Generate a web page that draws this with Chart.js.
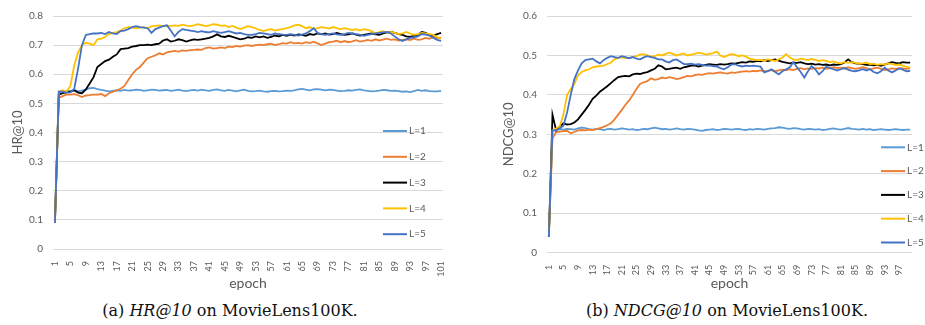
<!DOCTYPE html>
<html>
<head>
<meta charset="utf-8">
<script src="https://cdn.jsdelivr.net/npm/chart.js@4.4.1/dist/chart.umd.min.js"></script>
<style>
	body { margin: 0; width: 925px; height: 325px; overflow: hidden; background: #fff; position: relative; }
	.box { position: absolute; top: 0; }
	.caption { position: absolute; top: 300px; height: 22px; line-height: 22px; text-align: center;
		font-family: "DejaVu Serif", serif; font-size: 16px; color: #111; white-space: nowrap; }
</style>
</head>
<body>
<div class="box" style="left:0"><canvas id="hrChart" width="460" height="292"></canvas></div>
<div class="box" style="left:465px"><canvas id="ndcgChart" width="460" height="292"></canvas></div>
<div class="caption" style="left:0; width:460px">(a) <i>HR@10</i> on MovieLens100K.</div>
<div class="caption" style="left:465px; width:524px">(b) <i>NDCG@10</i> on MovieLens100K.</div>

<script>
// ===== 데이터 =====
const seriesNames = ['L=1', 'L=2', 'L=3', 'L=4', 'L=5'];
const seriesColors = ['#5B9BD5', '#ED7D31', '#000000', '#FFC000', '#4472C4'];

// epoch (x축 카테고리)
const epochsHR = [1,2,3,4,5,6,7,8,9,10,11,12,13,14,15,16,17,18,19,20,21,22,23,24,25,26,27,28,29,30,
	31,32,33,34,35,36,37,38,39,40,41,42,43,44,45,46,47,48,49,50,51,52,53,54,55,56,57,58,59,60,
	61,62,63,64,65,66,67,68,69,70,71,72,73,74,75,76,77,78,79,80,81,82,83,84,85,86,87,88,89,90,
	91,92,93,94,95,96,97,98,99,100,101];
const epochsNDCG = [1,2,3,4,5,6,7,8,9,10,11,12,13,14,15,16,17,18,19,20,21,22,23,24,25,26,27,28,29,30,
	31,32,33,34,35,36,37,38,39,40,41,42,43,44,45,46,47,48,49,50,51,52,53,54,55,56,57,58,59,60,
	61,62,63,64,65,66,67,68,69,70,71,72,73,74,75,76,77,78,79,80,81,82,83,84,85,86,87,88,89,90,
	91,92,93,94,95,96,97,98,99,100];

// y축 눈금
const hrTicks = [0, 0.1, 0.2, 0.3, 0.4, 0.5, 0.6, 0.7, 0.8];
const ndcgTicks = [0, 0.1, 0.2, 0.3, 0.4, 0.5, 0.6];

// HR@10
const hrL1 = [0.09,0.54,0.542,0.541,0.543,0.545,0.542,0.544,0.547,0.552,0.553,0.549,0.546,0.544,0.541,0.543,0.545,0.543,0.546,0.544,
	0.545,0.547,0.546,0.543,0.545,0.547,0.546,0.544,0.545,0.546,0.543,0.545,0.547,0.544,0.542,0.545,0.546,0.544,0.547,0.545,
	0.543,0.546,0.548,0.545,0.543,0.546,0.544,0.541,0.545,0.547,0.543,0.541,0.542,0.544,0.541,0.54,0.542,0.543,0.541,0.542,
	0.544,0.543,0.545,0.548,0.55,0.547,0.545,0.548,0.549,0.547,0.545,0.547,0.546,0.544,0.542,0.543,0.545,0.544,0.546,0.548,
	0.545,0.543,0.541,0.542,0.544,0.546,0.545,0.543,0.544,0.542,0.54,0.541,0.539,0.542,0.546,0.543,0.545,0.542,0.541,0.541,0.543];
const hrL2 = [0.09,0.52,0.525,0.53,0.53,0.532,0.528,0.522,0.527,0.528,0.53,0.53,0.532,0.525,0.535,0.54,0.545,0.55,0.56,0.58,
	0.6,0.615,0.625,0.64,0.655,0.66,0.665,0.672,0.668,0.675,0.678,0.68,0.678,0.682,0.68,0.683,0.684,0.685,0.684,0.69,
	0.692,0.688,0.69,0.692,0.69,0.695,0.693,0.697,0.695,0.698,0.7,0.697,0.7,0.702,0.7,0.703,0.705,0.7,0.703,0.707,
	0.705,0.71,0.706,0.708,0.705,0.71,0.707,0.712,0.706,0.7,0.705,0.71,0.712,0.715,0.71,0.714,0.71,0.713,0.717,0.712,
	0.715,0.718,0.715,0.72,0.716,0.719,0.722,0.718,0.72,0.716,0.718,0.72,0.717,0.722,0.718,0.72,0.725,0.722,0.728,0.724,0.726];
const hrL3 = [0.09,0.53,0.535,0.538,0.54,0.545,0.537,0.535,0.548,0.568,0.59,0.625,0.635,0.645,0.65,0.66,0.668,0.686,0.688,0.69,
	0.695,0.697,0.7,0.7,0.702,0.7,0.703,0.705,0.716,0.72,0.712,0.715,0.72,0.717,0.712,0.716,0.72,0.718,0.72,0.722,
	0.725,0.73,0.737,0.73,0.728,0.732,0.728,0.724,0.72,0.722,0.727,0.725,0.73,0.727,0.73,0.725,0.728,0.733,0.73,0.735,
	0.732,0.736,0.733,0.737,0.735,0.732,0.738,0.735,0.74,0.737,0.74,0.736,0.738,0.742,0.738,0.735,0.737,0.74,0.736,0.733,
	0.735,0.738,0.74,0.737,0.735,0.74,0.743,0.745,0.742,0.738,0.735,0.73,0.728,0.732,0.736,0.745,0.742,0.735,0.733,0.738,0.742];
const hrL4 = [0.09,0.54,0.545,0.54,0.56,0.63,0.675,0.7,0.708,0.705,0.7,0.72,0.722,0.728,0.738,0.742,0.745,0.75,0.758,0.762,
	0.76,0.758,0.76,0.762,0.758,0.764,0.766,0.768,0.765,0.767,0.765,0.768,0.766,0.77,0.767,0.765,0.768,0.772,0.769,0.765,
	0.768,0.772,0.77,0.766,0.768,0.762,0.766,0.76,0.755,0.76,0.765,0.762,0.758,0.752,0.748,0.752,0.755,0.75,0.753,0.755,
	0.758,0.762,0.768,0.77,0.765,0.758,0.762,0.755,0.758,0.762,0.76,0.757,0.762,0.758,0.755,0.758,0.755,0.752,0.755,0.75,
	0.755,0.752,0.748,0.74,0.745,0.748,0.742,0.745,0.742,0.738,0.74,0.745,0.74,0.735,0.738,0.742,0.74,0.738,0.735,0.728,0.722];
const hrL5 = [0.09,0.54,0.54,0.537,0.538,0.55,0.62,0.7,0.735,0.738,0.74,0.74,0.742,0.738,0.745,0.74,0.738,0.748,0.75,0.755,
	0.762,0.765,0.762,0.76,0.758,0.742,0.755,0.76,0.765,0.768,0.75,0.73,0.745,0.755,0.752,0.75,0.748,0.745,0.748,0.745,
	0.744,0.748,0.745,0.742,0.745,0.748,0.744,0.74,0.742,0.738,0.735,0.735,0.738,0.742,0.74,0.738,0.735,0.74,0.738,0.736,
	0.735,0.738,0.735,0.733,0.736,0.74,0.748,0.758,0.742,0.738,0.735,0.738,0.74,0.737,0.735,0.738,0.742,0.74,0.738,0.735,
	0.732,0.735,0.738,0.74,0.742,0.744,0.745,0.74,0.73,0.72,0.714,0.72,0.725,0.727,0.73,0.738,0.736,0.733,0.725,0.718,0.715];

// NDCG@10
const ndcgL1 = [0.04,0.31,0.312,0.313,0.312,0.314,0.313,0.312,0.315,0.317,0.316,0.313,0.312,0.314,0.313,0.311,0.313,0.314,0.312,0.313,
	0.315,0.314,0.312,0.313,0.311,0.312,0.314,0.313,0.315,0.317,0.315,0.313,0.314,0.312,0.313,0.315,0.313,0.312,0.314,0.313,
	0.312,0.31,0.309,0.311,0.312,0.313,0.311,0.312,0.314,0.313,0.312,0.313,0.314,0.312,0.311,0.313,0.312,0.314,0.313,0.312,
	0.314,0.315,0.316,0.318,0.317,0.315,0.314,0.316,0.315,0.313,0.312,0.314,0.313,0.312,0.313,0.311,0.312,0.314,0.315,0.313,
	0.312,0.314,0.316,0.314,0.313,0.312,0.314,0.312,0.313,0.311,0.312,0.313,0.312,0.311,0.312,0.313,0.312,0.311,0.312,0.312];
const ndcgL2 = [0.04,0.29,0.305,0.307,0.308,0.309,0.303,0.306,0.31,0.311,0.31,0.312,0.311,0.313,0.316,0.319,0.323,0.328,0.338,0.35,
	0.362,0.375,0.386,0.4,0.415,0.428,0.432,0.435,0.442,0.438,0.44,0.444,0.442,0.445,0.443,0.44,0.442,0.445,0.448,0.447,
	0.45,0.452,0.451,0.453,0.455,0.454,0.456,0.457,0.455,0.454,0.457,0.456,0.458,0.459,0.46,0.459,0.461,0.46,0.462,0.46,
	0.461,0.463,0.46,0.462,0.464,0.462,0.465,0.463,0.466,0.468,0.465,0.467,0.466,0.468,0.467,0.469,0.466,0.468,0.47,0.468,
	0.469,0.467,0.47,0.468,0.466,0.468,0.47,0.468,0.465,0.467,0.469,0.466,0.463,0.465,0.467,0.466,0.468,0.467,0.466,0.467];
const ndcgL3 = [0.04,0.35,0.31,0.32,0.328,0.325,0.326,0.33,0.338,0.35,0.362,0.375,0.39,0.398,0.408,0.415,0.422,0.43,0.438,0.445,
	0.447,0.448,0.447,0.452,0.454,0.453,0.456,0.458,0.462,0.466,0.475,0.472,0.465,0.466,0.468,0.469,0.466,0.47,0.472,0.474,
	0.475,0.472,0.474,0.476,0.478,0.477,0.476,0.478,0.477,0.478,0.48,0.479,0.481,0.483,0.482,0.485,0.484,0.486,0.485,0.488,
	0.486,0.488,0.49,0.487,0.484,0.482,0.48,0.482,0.481,0.483,0.48,0.478,0.479,0.477,0.478,0.476,0.477,0.475,0.477,0.476,
	0.478,0.482,0.49,0.483,0.48,0.479,0.478,0.476,0.477,0.475,0.476,0.474,0.477,0.48,0.483,0.481,0.48,0.483,0.482,0.482];
const ndcgL4 = [0.04,0.31,0.315,0.32,0.35,0.4,0.415,0.428,0.45,0.458,0.462,0.465,0.47,0.472,0.473,0.474,0.478,0.482,0.49,0.494,
	0.495,0.493,0.494,0.496,0.498,0.502,0.503,0.5,0.497,0.498,0.502,0.5,0.504,0.507,0.504,0.5,0.503,0.505,0.5,0.502,
	0.504,0.507,0.505,0.502,0.504,0.506,0.51,0.5,0.496,0.5,0.503,0.502,0.498,0.5,0.497,0.492,0.49,0.488,0.489,0.487,
	0.49,0.488,0.486,0.49,0.495,0.503,0.495,0.49,0.488,0.492,0.49,0.488,0.491,0.489,0.486,0.488,0.486,0.483,0.485,0.482,
	0.48,0.483,0.481,0.483,0.481,0.479,0.48,0.482,0.478,0.479,0.476,0.478,0.477,0.48,0.478,0.476,0.477,0.474,0.471,0.469];
const ndcgL5 = [0.04,0.31,0.31,0.315,0.322,0.355,0.4,0.44,0.462,0.48,0.488,0.49,0.492,0.485,0.48,0.488,0.494,0.498,0.496,0.494,
	0.498,0.496,0.493,0.496,0.492,0.49,0.495,0.498,0.496,0.494,0.49,0.49,0.485,0.482,0.488,0.49,0.484,0.478,0.478,0.479,
	0.477,0.478,0.476,0.474,0.475,0.473,0.472,0.468,0.465,0.47,0.477,0.478,0.474,0.472,0.474,0.473,0.474,0.473,0.472,0.457,
	0.46,0.465,0.458,0.452,0.46,0.465,0.47,0.483,0.47,0.458,0.444,0.46,0.473,0.465,0.452,0.46,0.472,0.468,0.465,0.462,
	0.465,0.468,0.464,0.461,0.46,0.462,0.465,0.462,0.465,0.458,0.455,0.46,0.469,0.462,0.457,0.462,0.467,0.464,0.46,0.461];

// ===== 공통 스타일 =====
const TEXT_COLOR = '#595959';
const GRID_COLOR = '#D9D9D9';
Chart.defaults.font.family = 'Lato, "Liberation Sans", sans-serif';
Chart.defaults.color = TEXT_COLOR;

// 플롯 영역 안쪽 오른쪽에 그리는 범례
const insideLegend = {
	id: 'insideLegend',
	afterDatasetsDraw(chart, args, opts) {
		const ctx = chart.ctx;
		ctx.save();
		ctx.font = '10px Lato, "Liberation Sans", sans-serif';
		ctx.textBaseline = 'middle';
		chart.data.datasets.forEach((ds, i) => {
			const y = opts.top + i * opts.gap;
			ctx.strokeStyle = ds.borderColor;
			ctx.lineWidth = 2;
			ctx.beginPath();
			ctx.moveTo(opts.left, y);
			ctx.lineTo(opts.left + 24, y);
			ctx.stroke();
			ctx.fillStyle = TEXT_COLOR;
			ctx.fillText(ds.label, opts.left + 26, y);
		});
		ctx.restore();
	}
};

function makeDatasets(seriesList) {
	return seriesList.map((values, i) => ({
		label: seriesNames[i],
		data: values,
		borderColor: seriesColors[i],
		backgroundColor: seriesColors[i],
		borderWidth: 1.8,
		pointRadius: 0,
		tension: 0,
		order: seriesList.length - i   // L=5 가 맨 위에 그려지도록
	}));
}

function renderChart(canvasId, cfg) {
	const yTicks = cfg.yTicks;
	return new Chart(document.getElementById(canvasId), {
		type: 'line',
		data: {
			labels: cfg.labels,
			datasets: makeDatasets(cfg.series)
		},
		options: {
			responsive: false,
			animation: false,
			events: [],
			layout: { padding: { top: cfg.padTop, right: cfg.padRight, left: 0, bottom: 0 } },
			plugins: {
				legend: { display: false },
				tooltip: { enabled: false },
				insideLegend: cfg.legend
			},
			scales: {
				x: {
					offset: true,
					grid: { display: false },
					border: { display: false },
					ticks: {
						autoSkip: false,
						maxRotation: 90,
						minRotation: 90,
						padding: 4,
						font: { size: 9 },
						color: TEXT_COLOR,
						callback: function(value, index) {
							return index % 4 === 0 ? this.getLabelForValue(value) : '';
						}
					},
					title: { display: true, text: 'epoch', font: { size: 14 }, color: TEXT_COLOR, padding: 0 },
					afterFit: (scale) => { scale.height = cfg.xHeight; }
				},
				y: {
					min: yTicks[0],
					max: yTicks[yTicks.length - 1],
					afterBuildTicks: (scale) => { scale.ticks = yTicks.map(v => ({ value: v })); },
					grid: { color: GRID_COLOR, lineWidth: 1, drawTicks: false },
					border: { display: false },
					ticks: {
						padding: 10,
						font: { size: 10 },
						color: TEXT_COLOR,
						callback: (v) => String(Math.round(v * 10) / 10)
					},
					title: { display: true, text: cfg.yTitle, font: { size: 13 }, color: TEXT_COLOR, padding: { top: cfg.yTitlePad, bottom: 0 } },
					afterFit: (scale) => { scale.width = cfg.yWidth; }
				}
			}
		},
		plugins: [insideLegend]
	});
}

renderChart('hrChart', {
	labels: epochsHR,
	series: [hrL1, hrL2, hrL3, hrL4, hrL5],
	yTicks: hrTicks,
	yTitle: 'HR@10',
	yTitlePad: 10,
	yWidth: 53,
	xHeight: 43,
	padTop: 14,
	padRight: 17,
	legend: { left: 383, top: 131, gap: 25.8 }
});

renderChart('ndcgChart', {
	labels: epochsNDCG,
	series: [ndcgL1, ndcgL2, ndcgL3, ndcgL4, ndcgL5],
	yTicks: ndcgTicks,
	yTitle: 'NDCG@10',
	yTitlePad: 36,
	yWidth: 82,
	xHeight: 39.3,
	padTop: 12.7,
	padRight: 4,
	legend: { left: 416, top: 147.3, gap: 23.8 }
});
</script>
</body>
</html>
